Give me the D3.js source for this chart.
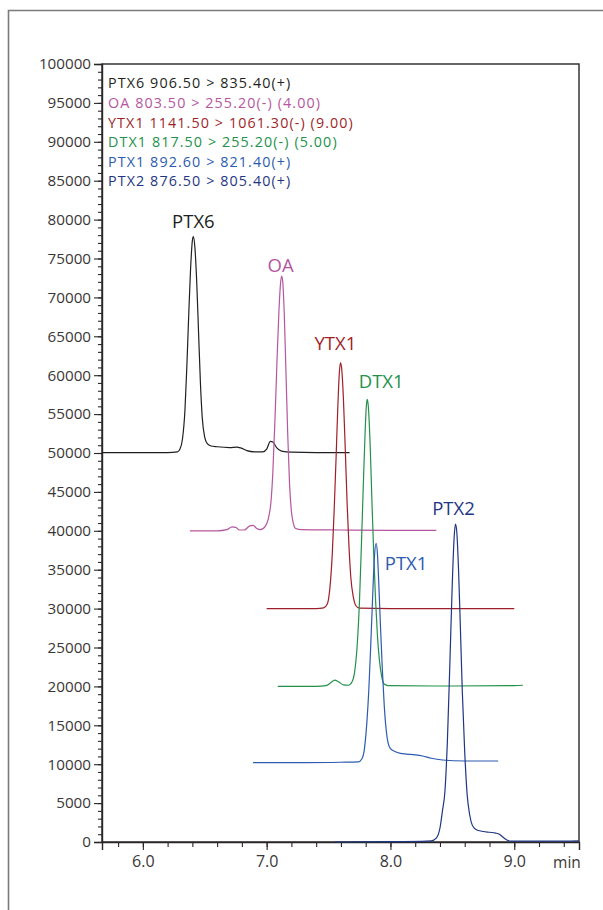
<!DOCTYPE html>
<html>
<head>
<meta charset="utf-8">
<script src="https://cdn.jsdelivr.net/npm/d3@7"></script>
<style>
  html, body { margin: 0; padding: 0; background: #fff; }
  svg { display: block; font-family: "Open Sans", "Noto Sans", sans-serif; }
</style>
</head>
<body>
<svg id="chart" width="603" height="910"></svg>
<script>
// ---------------- DATA ----------------
const seriesNames = ["PTX6", "OA", "YTX1", "DTX1", "PTX1", "PTX2"];
const legendLabels = [
  "PTX6 906.50 > 835.40(+)",
  "OA 803.50 > 255.20(-) (4.00)",
  "YTX1 1141.50 > 1061.30(-) (9.00)",
  "DTX1 817.50 > 255.20(-) (5.00)",
  "PTX1 892.60 > 821.40(+)",
  "PTX2 876.50 > 805.40(+)"
];
const yTickValues = [0, 5000, 10000, 15000, 20000, 25000, 30000, 35000, 40000, 45000,
  50000, 55000, 60000, 65000, 70000, 75000, 80000, 85000, 90000, 95000, 100000];
const xTickValues = [6.0, 7.0, 8.0, 9.0];
const xTickLabels = ["6.0", "7.0", "8.0", "9.0"];
const xUnitLabel = "min";

const ptx6Time  = [5.67, 6.20, 6.28, 6.30, 6.32, 6.34, 6.355, 6.37, 6.385, 6.40, 6.408, 6.42, 6.435, 6.45, 6.465, 6.48, 6.50, 6.52, 6.55, 6.60, 6.70, 6.76, 6.79, 6.84, 6.90, 6.97, 7.00, 7.03, 7.05, 7.08, 7.12, 7.20, 7.40, 7.67];
const ptx6Value = [50050, 50050, 50150, 50500, 51800, 55500, 61000, 67500, 73500, 77300, 77800, 76500, 72000, 65500, 59000, 54500, 52000, 51200, 50900, 50800, 50700, 50750, 50650, 50300, 50150, 50150, 50500, 51500, 51400, 50700, 50250, 50100, 50050, 50050];

const oaTime  = [6.38, 6.60, 6.68, 6.72, 6.75, 6.78, 6.82, 6.86, 6.89, 6.92, 6.95, 6.99, 7.03, 7.05, 7.07, 7.085, 7.10, 7.112, 7.121, 7.13, 7.142, 7.155, 7.17, 7.185, 7.20, 7.215, 7.235, 7.28, 7.60, 8.00, 8.37];
const oaValue = [40000, 40000, 40150, 40500, 40450, 40100, 40100, 40600, 40700, 40300, 40150, 40600, 43000, 47500, 55500, 62500, 68500, 71800, 72750, 72000, 68000, 61000, 52500, 46000, 42500, 41000, 40300, 40150, 40100, 40050, 40050];

const ytx1Time  = [7.00, 7.40, 7.46, 7.49, 7.51, 7.53, 7.545, 7.56, 7.575, 7.588, 7.596, 7.605, 7.62, 7.635, 7.65, 7.665, 7.68, 7.70, 7.72, 7.75, 8.00, 9.00];
const ytx1Value = [30000, 30000, 30100, 30600, 32500, 37000, 42500, 49000, 56000, 60500, 61600, 61000, 57000, 50500, 43500, 38000, 34000, 31500, 30400, 30050, 30000, 30000];

const dtx1Time  = [7.09, 7.40, 7.48, 7.52, 7.55, 7.58, 7.62, 7.66, 7.69, 7.71, 7.73, 7.75, 7.765, 7.78, 7.795, 7.805, 7.812, 7.82, 7.835, 7.85, 7.865, 7.88, 7.895, 7.91, 7.93, 7.95, 7.98, 8.50, 9.00, 9.07];
const dtx1Value = [20000, 20000, 20100, 20500, 20800, 20600, 20200, 20150, 20600, 21800, 25000, 31000, 38000, 45500, 52500, 56000, 56900, 56200, 51500, 44000, 37000, 31000, 26500, 23500, 21200, 20300, 20100, 20050, 20100, 20150];

const ptx1Time  = [6.89, 7.30, 7.60, 7.74, 7.77, 7.79, 7.81, 7.825, 7.84, 7.855, 7.87, 7.884, 7.895, 7.905, 7.92, 7.935, 7.95, 7.965, 7.98, 8.00, 8.04, 8.08, 8.13, 8.20, 8.26, 8.33, 8.42, 8.60, 8.87];
const ptx1Value = [10200, 10200, 10250, 10300, 10700, 12000, 15500, 19500, 25000, 31000, 36500, 38400, 37000, 33500, 27500, 22000, 17500, 14500, 12800, 12000, 11600, 11400, 11300, 11200, 11050, 10760, 10540, 10410, 10410];

const ptx2Time  = [7.55, 8.00, 8.25, 8.33, 8.37, 8.40, 8.42, 8.44, 8.46, 8.48, 8.50, 8.515, 8.525, 8.535, 8.55, 8.565, 8.58, 8.60, 8.62, 8.64, 8.66, 8.69, 8.75, 8.80, 8.85, 8.88, 8.91, 8.94, 8.97, 9.10, 9.30, 9.52];
const ptx2Value = [0, 50, 80, 150, 500, 1800, 4000, 6500, 13000, 23000, 33500, 39300, 40870, 40000, 35000, 27500, 19500, 11500, 6000, 3500, 2200, 1600, 1350, 1250, 1150, 1000, 600, 250, 120, 100, 100, 150];

// ---------------- STYLE / LAYOUT ----------------
const colors = {
  PTX6: "#231f20", OA: "#b5569f", YTX1: "#9e1f2a",
  DTX1: "#23914a", PTX1: "#2c5bb0", PTX2: "#1f3683"
};
const labelOffsets = { // pixel offsets from peak apex (label centre x, text baseline y)
  PTX6: [0, -9], OA: [-1, -4], YTX1: [-5, -13], DTX1: [14, -11], PTX1: [30, 27], PTX2: [-2, -9]
};
const series = [
  { name: "PTX6", t: ptx6Time, v: ptx6Value },
  { name: "OA",   t: oaTime,   v: oaValue },
  { name: "YTX1", t: ytx1Time, v: ytx1Value },
  { name: "DTX1", t: dtx1Time, v: dtx1Value },
  { name: "PTX1", t: ptx1Time, v: ptx1Value },
  { name: "PTX2", t: ptx2Time, v: ptx2Value }
];

const plot = { left: 102, right: 579, top: 64, bottom: 842 };
const svg = d3.select("#chart");

const x = d3.scaleLinear().domain([5.67, 9.523]).range([plot.left, plot.right]);
const y = d3.scaleLinear().domain([0, 100000]).range([plot.bottom, plot.top]);

// outer frame
svg.append("path")
  .attr("d", `M8.5,915 L8.5,10.5 L610,10.5`)
  .attr("fill", "none").attr("stroke", "#7d7a7b").attr("stroke-width", 1.6);

// plot box
svg.append("rect")
  .attr("x", plot.left).attr("y", plot.top)
  .attr("width", plot.right - plot.left).attr("height", plot.bottom - plot.top)
  .attr("fill", "none").attr("stroke", "#2a2627").attr("stroke-width", 1.4);

// y axis
const yMinor = d3.range(0, 100001, 1000);
const yAxisG = svg.append("g").attr("transform", `translate(${plot.left},0)`);
yAxisG.call(d3.axisLeft(y).tickValues(yMinor).tickSize(4).tickFormat(""))
  .call(g => g.select(".domain").remove())
  .selectAll("line").attr("stroke", "#2a2627").attr("stroke-width", 1.1);
const yMajorG = svg.append("g").attr("transform", `translate(${plot.left},0)`);
yMajorG.call(d3.axisLeft(y).tickValues(yTickValues).tickSize(8).tickPadding(3).tickFormat(d3.format("d")))
  .call(g => g.select(".domain").attr("stroke", "#2a2627").attr("stroke-width", 1.4));
yMajorG.selectAll("line").attr("stroke", "#2a2627").attr("stroke-width", 1.1);
yMajorG.selectAll("text").attr("font-size", 15.2).attr("fill", "#3a3637")
  .attr("font-family", "Open Sans");

// x axis
const xMinor = d3.range(5.8, 9.45, 0.2);
const xAxisG = svg.append("g").attr("transform", `translate(0,${plot.bottom})`);
xAxisG.call(d3.axisBottom(x).tickValues(xMinor).tickSize(5).tickFormat(""))
  .call(g => g.select(".domain").remove())
  .selectAll("line").attr("stroke", "#2a2627").attr("stroke-width", 1.1);
const xMajorG = svg.append("g").attr("transform", `translate(0,${plot.bottom})`);
xMajorG.call(d3.axisBottom(x).tickValues(xTickValues).tickSize(8).tickPadding(6)
    .tickFormat((d, i) => xTickLabels[i]))
  .call(g => g.select(".domain").attr("stroke", "#2a2627").attr("stroke-width", 1.4));
xMajorG.selectAll("line").attr("stroke", "#2a2627").attr("stroke-width", 1.1);
xMajorG.selectAll("text").attr("font-size", 16).attr("fill", "#3a3637")
  .attr("font-family", "Open Sans");
svg.append("text").attr("x", 567).attr("y", 868).attr("text-anchor", "middle")
  .attr("font-size", 15.5).attr("fill", "#3a3637").text(xUnitLabel);

// traces
const line = d3.line().x(d => x(d[0])).y(d => y(d[1])).curve(d3.curveMonotoneX);
const traceG = svg.append("g");
series.forEach(s => {
  const pts = s.t.map((t, i) => [t, s.v[i]]);
  traceG.append("path").datum(pts)
    .attr("d", line)
    .attr("fill", "none")
    .attr("stroke", colors[s.name])
    .attr("stroke-width", 1.2)
    .attr("stroke-linejoin", "round");
});

// peak labels
series.forEach(s => {
  const iMax = d3.maxIndex(s.v);
  const off = labelOffsets[s.name];
  svg.append("text")
    .attr("x", x(s.t[iMax]) + off[0])
    .attr("y", y(s.v[iMax]) + off[1])
    .attr("text-anchor", "middle")
    .attr("font-size", 18.5)
    .attr("fill", colors[s.name])
    .text(s.name);
});

// legend
const legG = svg.append("g");
legendLabels.forEach((lab, i) => {
  legG.append("text")
    .attr("x", 108).attr("y", 88.3 + i * 19.6)
    .attr("font-size", 14.3)
    .attr("letter-spacing", 1.1)
    .attr("fill", colors[seriesNames[i]])
    .text(lab);
});
</script>
</body>
</html>
